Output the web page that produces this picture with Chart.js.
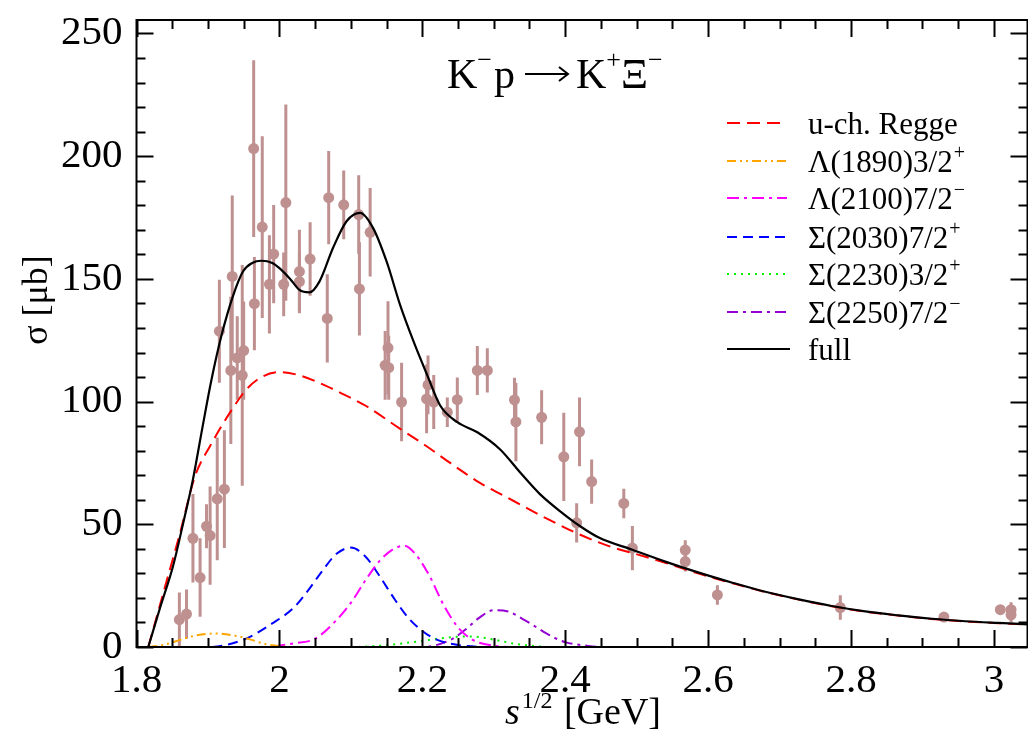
<!DOCTYPE html>
<html>
<head>
<meta charset="utf-8">
<script src="https://cdn.jsdelivr.net/npm/chart.js@4.4.1/dist/chart.umd.min.js"></script>
<style>
  html, body { margin: 0; padding: 0; background: #ffffff; overflow: hidden; }
  #chart { display: block; }
</style>
</head>
<body>
<canvas id="chart" width="1033" height="736"></canvas>
<script>
// Data points (s^1/2 in GeV, sigma in mub, error)
const dataX = [1.860, 1.870, 1.879, 1.889, 1.898, 1.903, 1.913, 1.916, 1.923, 1.932, 1.934, 1.941, 1.948, 1.950,
    1.964, 1.965, 1.976, 1.986, 1.992, 2.006, 2.009, 2.028, 2.028, 2.043, 2.067, 2.069, 2.090, 2.111, 2.112,
    2.127, 2.148, 2.152, 2.153, 2.171, 2.206, 2.208, 2.216, 2.235, 2.249, 2.277, 2.291, 2.329, 2.331, 2.367,
    2.398, 2.416, 2.420, 2.437, 2.482, 2.494, 2.568, 2.568, 2.613, 2.785, 2.930, 3.009, 3.024, 3.024];
const dataY = [11.2, 13.4, 44.3, 28.3, 49.2, 45.4, 60.4, 128.7, 64.3, 112.7, 151.0, 117.8, 110.7, 120.8,
    203.1, 139.9, 171.1, 147.8, 160.1, 147.8, 181.1, 153.0, 148.9, 158.1, 133.9, 183.1, 180.2, 176.2, 145.9,
    169.0, 114.8, 121.9, 113.8, 99.8, 101.1, 106.8, 99.8, 95.7, 100.8, 112.7, 112.7, 100.7, 91.7, 93.6,
    77.5, 50.6, 87.7, 67.4, 58.5, 40.3, 39.5, 34.8, 21.2, 16.1, 12.2, 15.2, 15.2, 13.1];
const dataErr = [11, 10, 18, 16, 9, 20, 25, 21, 24, 30, 33, 17, 45, 20,
    36, 19, 37, 20, 20, 13, 40, 17, 12, 15, 18, 19, 14, 16, 19,
    18, 14, 19, 13, 16, 14, 12, 11, 6, 9, 10, 9, 9, 16, 11,
    18, 8, 14, 9, 6, 9, 4, 4, 4, 5, 1, 1.5, 3, 3];

// Model curves
const fullX = [1.8165, 1.833, 1.851, 1.865, 1.879, 1.892, 1.905, 1.919, 1.935, 1.949, 1.962, 1.975, 1.990, 2.000,
    2.015, 2.028, 2.042, 2.056, 2.075, 2.094, 2.113, 2.131, 2.150, 2.169, 2.188, 2.207, 2.225, 2.249, 2.277,
    2.309, 2.337, 2.365, 2.393, 2.421, 2.447, 2.494, 2.540, 2.587, 2.634, 2.680, 2.727, 2.773, 2.820, 2.866,
    2.913, 2.960, 3.006, 3.050];
const fullY = [0, 16, 32.8, 50, 68.3, 89, 109, 127, 143, 153, 156.5, 157.4, 156.5, 154.4,
    150, 145.5, 144.5, 148.9, 162.6, 173.5, 176.9, 170.8, 157.1, 139.3, 124.3, 110.7, 98.4, 91.6, 87.5,
    80.5, 71.1, 62.2, 55.3, 49.2, 44.6, 39.6, 34.8, 30.3, 26.2, 22.5, 19.4, 16.7, 14.5, 12.9,
    11.5, 10.5, 9.8, 9.2];

const reggeX = [1.8165, 1.840, 1.861, 1.882, 1.903, 1.931, 1.954, 1.975, 2.000, 2.028, 2.066, 2.100, 2.122,
    2.168, 2.205, 2.240, 2.280, 2.326, 2.373, 2.419, 2.466, 2.494, 2.540, 2.587, 2.634, 2.680, 2.727, 2.773,
    2.820, 2.866, 2.913, 2.960, 3.006, 3.050];
const reggeY = [0, 24.6, 46.5, 69.7, 81.9, 95.6, 105, 110, 112, 110.7, 106.3, 101.5, 98.1,
    89.1, 82, 74.8, 67, 59.8, 52.5, 46, 40.6, 38.3, 34.3, 29.9, 26, 22.4, 19.3, 16.6,
    14.4, 12.8, 11.4, 10.4, 9.7, 9.1];

const l1890X = [1.8165, 1.840, 1.860, 1.880, 1.910, 1.940, 1.960, 1.980, 2.000, 2.020, 3.050];
const l1890Y = [0, 1, 2.8, 4.5, 5.5, 4.5, 3, 1.2, 0.3, 0, 0];

const l2100X = [1.8165, 1.980, 2.020, 2.050, 2.080, 2.100, 2.120, 2.140, 2.160, 2.175, 2.190, 2.210, 2.230,
    2.250, 2.270, 2.300, 2.330, 3.050];
const l2100Y = [0, 0, 1.5, 3.4, 11, 18, 27, 35, 40, 41.3, 38, 29, 17, 8, 3, 0.5, 0, 0];

const s2030X = [1.8165, 1.900, 1.950, 1.990, 2.020, 2.040, 2.060, 2.080, 2.100, 2.120, 2.140, 2.160, 2.180,
    2.200, 2.220, 2.250, 2.300, 3.050];
const s2030Y = [0, 0, 3, 9.6, 16, 23, 31, 38, 40.5, 37, 29, 20, 12, 6.5, 3, 0.8, 0, 0];

const s2230X = [1.8165, 2.100, 2.150, 2.200, 2.240, 2.270, 2.300, 2.330, 2.360, 2.380, 3.050];
const s2230Y = [0, 0, 0.8, 2.5, 4, 4.3, 3, 1.3, 0.3, 0, 0];

const s2250X = [1.8165, 2.200, 2.240, 2.260, 2.280, 2.300, 2.320, 2.340, 2.360, 2.380, 2.400, 2.430, 2.450, 3.050];
const s2250Y = [0, 0, 3, 7, 12, 15, 14.5, 11.5, 8, 4.5, 2, 0.5, 0, 0];

const legendLabels = ['u-ch. Regge', 'Λ(1890)3/2', 'Λ(2100)7/2', 'Σ(2030)7/2', 'Σ(2230)3/2', 'Σ(2250)7/2', 'full'];
const legendSup = ['', '+', '−', '+', '+', '−', ''];

const xTicks = [1.8, 2.0, 2.2, 2.4, 2.6, 2.8, 3.0];
const yTicks = [0, 50, 100, 150, 200, 250];

const SERIF = '"Liberation Serif", "DejaVu Serif", serif';
const POINT_COLOR = '#bf9090';

function pts(xs, ys) {
    return xs.map((x, i) => ({ x: x, y: ys[i] }));
}

function curve(xs, ys, color, dash, width) {
    return {
        data: pts(xs, ys),
        showLine: true,
        borderColor: color,
        borderWidth: width || 2,
        borderDash: dash,
        pointRadius: 0,
        cubicInterpolationMode: 'monotone',
        fill: false
    };
}

// full curve first so it is drawn on top
const curveSets = [
    curve(fullX, fullY, '#000000', [], 2.2),
    curve(reggeX, reggeY, '#ff0000', [13, 7]),
    curve(l1890X, l1890Y, '#ffa500', [9, 4, 2, 4, 2, 4]),
    curve(l2100X, l2100Y, '#ff00ff', [12, 5, 3, 5]),
    curve(s2030X, s2030Y, '#0000ff', [10, 6]),
    curve(s2230X, s2230Y, '#00ee00', [2, 5]),
    curve(s2250X, s2250Y, '#9400d3', [11, 5, 3, 5])
];

const pointSet = {
    data: pts(dataX, dataY),
    showLine: false,
    pointRadius: 5.5,
    pointBackgroundColor: POINT_COLOR,
    pointBorderWidth: 0
};

// error bars, frame, inward ticks and all the annotation text
const decorPlugin = {
    id: 'decor',
    beforeDatasetsDraw(chart) {
        const ctx = chart.ctx, xs = chart.scales.x, ys = chart.scales.y, a = chart.chartArea;
        ctx.save();
        ctx.beginPath();
        ctx.rect(a.left, a.top, a.right - a.left, a.bottom - a.top);
        ctx.clip();
        ctx.strokeStyle = POINT_COLOR;
        ctx.lineWidth = 3;
        dataX.forEach((x, i) => {
            const px = xs.getPixelForValue(x);
            ctx.beginPath();
            ctx.moveTo(px, ys.getPixelForValue(dataY[i] - dataErr[i]));
            ctx.lineTo(px, ys.getPixelForValue(dataY[i] + dataErr[i]));
            ctx.stroke();
        });
        ctx.restore();
    },
    afterDraw(chart) {
        const ctx = chart.ctx, xs = chart.scales.x, ys = chart.scales.y, a = chart.chartArea;
        ctx.save();
        ctx.strokeStyle = '#000';
        ctx.lineWidth = 2;
        ctx.strokeRect(a.left, a.top, a.right - a.left, a.bottom - a.top);

        // x ticks (bottom and top)
        for (let v = 1.8; v <= xs.max + 1e-9; v += 0.05) {
            const major = Math.abs(v * 5 - Math.round(v * 5)) < 1e-6;
            const len = major ? 17 : 9;
            const px = Math.round(xs.getPixelForValue(v)) + 0.5;
            ctx.beginPath();
            ctx.moveTo(px, a.bottom); ctx.lineTo(px, a.bottom - len);
            ctx.moveTo(px, a.top); ctx.lineTo(px, a.top + len);
            ctx.stroke();
        }
        // y ticks (left and right)
        for (let v = 0; v <= ys.max + 1e-9; v += 10) {
            const major = v % 50 === 0;
            const len = major ? 17 : 9;
            const py = Math.round(ys.getPixelForValue(v)) + 0.5;
            ctx.beginPath();
            ctx.moveTo(a.left, py); ctx.lineTo(a.left + len, py);
            ctx.moveTo(a.right, py); ctx.lineTo(a.right - len, py);
            ctx.stroke();
        }

        ctx.fillStyle = '#000';
        ctx.textBaseline = 'alphabetic';
        ctx.textAlign = 'left';

        // reaction title
        let x = 447;
        const by = 88;
        const part = (t, size, dy) => {
            ctx.font = size + 'px ' + SERIF;
            ctx.fillText(t, x, by + dy);
            x += ctx.measureText(t).width;
        };
        part('K', 42, 0); part('−', 26, -20); x += 2;
        part('p', 42, 0); x += 10;
        // arrow
        ctx.lineWidth = 2;
        ctx.beginPath();
        ctx.moveTo(x, by - 14); ctx.lineTo(x + 42, by - 14);
        ctx.moveTo(x + 34, by - 21); ctx.lineTo(x + 43, by - 14); ctx.lineTo(x + 34, by - 7);
        ctx.stroke();
        x += 51;
        part('K', 42, 0); part('+', 26, -20);
        part('Ξ', 42, 0); part('−', 26, -20);

        // legend
        const rowY = [123, 161, 198, 237, 274, 312, 349];
        legendLabels.forEach((lab, i) => {
            const ds = curveSets[i === 6 ? 0 : i + 1];
            const y = rowY[i];
            ctx.save();
            ctx.strokeStyle = ds.borderColor;
            ctx.lineWidth = ds.borderWidth;
            ctx.setLineDash(ds.borderDash);
            ctx.beginPath();
            ctx.moveTo(727, y); ctx.lineTo(i === 6 ? 790 : 787, y);
            ctx.stroke();
            ctx.restore();
            ctx.font = '31px ' + SERIF;
            ctx.fillText(lab, 808, y + 11);
            if (legendSup[i]) {
                const w = ctx.measureText(lab).width;
                ctx.font = '20px ' + SERIF;
                ctx.fillText(legendSup[i], 808 + w + 1, y - 2);
            }
        });

        // x axis title
        x = 505;
        const ty = 724;
        ctx.font = 'italic 38px ' + SERIF;
        ctx.fillText('s', x, ty);
        x += ctx.measureText('s').width + 2;
        ctx.font = '24px ' + SERIF;
        ctx.fillText('1/2', x, ty - 16);
        x += ctx.measureText('1/2').width + 2;
        ctx.font = '38px ' + SERIF;
        ctx.fillText(' [GeV]', x, ty);

        // y axis title
        ctx.save();
        ctx.translate(47, 300);
        ctx.rotate(-Math.PI / 2);
        ctx.textAlign = 'center';
        ctx.font = '36px ' + SERIF;
        ctx.fillText('σ [μb]', 0, 0);
        ctx.restore();

        ctx.restore();
    }
};

const chart = new Chart(document.getElementById('chart'), {
    type: 'scatter',
    data: { datasets: curveSets.concat([pointSet]) },
    options: {
        responsive: false,
        animation: false,
        devicePixelRatio: 1,
        layout: { padding: { top: 20, right: 0, left: 0, bottom: 0 } },
        plugins: { legend: { display: false }, tooltip: { enabled: false } },
        scales: {
            x: {
                type: 'linear',
                min: 1.8,
                max: 3.047,
                afterFit: s => { s.height = 89; s.paddingLeft = 0; s.paddingRight = 0; },
                afterBuildTicks: s => { s.ticks = xTicks.map(v => ({ value: v })); },
                ticks: {
                    color: '#000',
                    font: { family: SERIF, size: 41 },
                    padding: 2,
                    maxRotation: 0,
                    autoSkip: false,
                    callback: v => String(Math.round(v * 10) / 10)
                },
                grid: { display: false },
                border: { display: false }
            },
            y: {
                type: 'linear',
                min: 0,
                max: 255.5,
                afterFit: s => { s.width = 136.5; s.paddingTop = 0; s.paddingBottom = 0; },
                afterBuildTicks: s => { s.ticks = yTicks.map(v => ({ value: v })); },
                ticks: {
                    color: '#000',
                    font: { family: SERIF, size: 41 },
                    padding: 6,
                    autoSkip: false
                },
                grid: { display: false },
                border: { display: false }
            }
        }
    },
    plugins: [decorPlugin]
});
</script>
</body>
</html>
